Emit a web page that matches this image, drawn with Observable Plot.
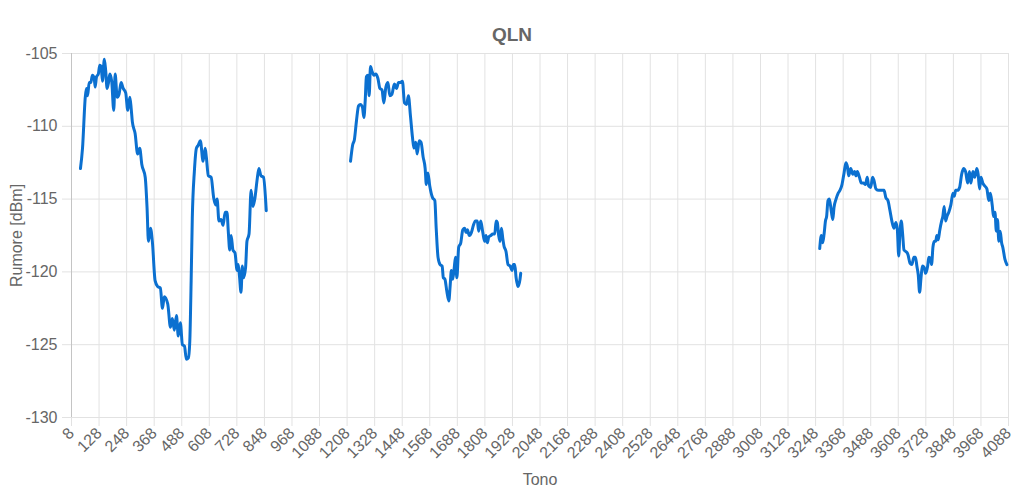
<!DOCTYPE html>
<html>
<head>
<meta charset="utf-8">
<script src="https://cdn.jsdelivr.net/npm/d3@7"></script>
<script src="https://cdn.jsdelivr.net/npm/@observablehq/plot@0.6"></script>
<style>
  html, body { margin: 0; padding: 0; background: #fff; }
  #chart svg { display: block; }
</style>
</head>
<body>
<div id="chart"></div>
<script>
const title = "QLN";
const xLabel = "Tono";
const yLabel = "Rumore [dBm]";

const xTicks = [8,128,248,368,488,608,728,848,968,1088,1208,1328,1448,1568,1688,1808,1928,2048,2168,2288,2408,2528,2648,2768,2888,3008,3128,3248,3368,3488,3608,3728,3848,3968,4088];
const yTicks = [-130,-125,-120,-115,-110,-105];

const tonesA = [47,56,68,73,78,85,92,99,107,111,117,125,131,137,143,151,157,163,169,175,183,192,198,207,215,224,233,244,253,262,268,273,285,296,305,314,329,337,343,352,360,372,383,395,404,412,427,439,447,456,465,473,482,491,500,508,517,523,529,534,543,552,560,569,581,590,595,604,616,627,636,642,650,659,668,677,685,691,697,703,711,720,729,734,740,746,752,757,766,772,781,790,798,807,816,824,833,844,856];
const qlnA = [-112.9,-111.5,-108.0,-107.4,-107.9,-107.0,-107.0,-106.5,-106.7,-107.3,-106.6,-106.4,-105.8,-105.9,-106.9,-105.4,-106.2,-107.4,-107.0,-106.4,-106.9,-108.9,-106.4,-108.0,-107.8,-107.0,-107.4,-107.7,-108.9,-108.0,-108.8,-109.7,-110.5,-111.9,-111.5,-112.6,-113.5,-115.6,-117.9,-117.0,-117.9,-120.6,-121.0,-121.1,-122.5,-121.7,-122.2,-123.8,-123.2,-124.0,-123.0,-124.4,-123.5,-125.0,-125.1,-126.0,-125.9,-124.8,-120.6,-116.3,-113.1,-111.5,-111.3,-111.0,-112.4,-111.5,-112.1,-113.4,-113.5,-114.9,-115.4,-115.0,-116.5,-116.4,-116.8,-115.9,-115.9,-117.3,-118.5,-117.5,-118.5,-118.7,-119.9,-119.5,-120.4,-121.4,-119.6,-120.4,-119.7,-117.9,-117.4,-114.4,-115.5,-114.9,-113.7,-112.9,-113.4,-113.5,-115.8];

const tonesB = [1223,1232,1240,1249,1258,1266,1275,1281,1287,1292,1299,1304,1310,1316,1325,1333,1342,1351,1360,1368,1377,1386,1394,1403,1414,1423,1432,1440,1449,1458,1467,1475,1484,1493,1499,1507,1513,1522,1530,1539,1548,1553,1560,1568,1580,1590,1596,1604,1613,1622,1627,1634,1642,1651,1657,1662,1668,1674,1680,1686,1694,1703,1712,1720,1726,1732,1740,1749,1758,1767,1775,1781,1790,1799,1807,1813,1819,1825,1834,1842,1851,1857,1862,1868,1874,1880,1886,1891,1900,1909,1918,1926,1932,1938,1944,1952,1961,1964];
const qlnB = [-112.4,-111.3,-110.9,-109.6,-108.6,-108.5,-108.7,-109.4,-108.2,-106.6,-106.5,-107.9,-105.9,-106.2,-106.5,-106.4,-106.7,-107.4,-107.5,-108.4,-107.3,-107.0,-107.9,-107.8,-107.1,-107.4,-107.0,-107.0,-106.9,-108.4,-108.5,-107.9,-109.3,-110.8,-111.5,-111.1,-111.9,-111.0,-111.1,-112.1,-112.9,-114.0,-113.2,-114.1,-114.9,-115.1,-117.0,-119.0,-119.5,-119.6,-120.4,-120.5,-121.3,-122.0,-120.9,-119.9,-120.5,-119.8,-119.0,-120.4,-118.3,-118.0,-117.1,-117.0,-117.3,-117.1,-117.5,-117.3,-116.8,-116.5,-116.5,-117.2,-116.5,-117.3,-117.9,-117.5,-118.0,-117.6,-117.5,-117.4,-117.4,-116.5,-116.6,-117.5,-117.9,-117.0,-117.7,-118.2,-118.6,-119.5,-119.6,-119.9,-119.5,-119.5,-120.4,-121.0,-120.5,-120.1];

const tonesC = [3266,3273,3279,3285,3291,3296,3302,3308,3317,3323,3328,3337,3346,3354,3363,3372,3380,3387,3392,3401,3410,3418,3424,3430,3439,3447,3456,3465,3473,3479,3488,3496,3502,3511,3523,3534,3546,3554,3563,3572,3580,3589,3598,3604,3610,3615,3621,3627,3633,3641,3650,3659,3667,3676,3683,3689,3695,3701,3707,3713,3721,3727,3736,3741,3748,3753,3759,3765,3771,3776,3782,3788,3797,3802,3808,3814,3820,3828,3837,3846,3852,3858,3866,3875,3884,3892,3901,3910,3918,3924,3933,3941,3950,3956,3962,3968,3976,3985,3994,4002,4009,4017,4023,4029,4035,4040,4046,4052,4058,4063,4072,4081];
const qlnC = [-118.4,-117.5,-118.0,-117.4,-116.5,-116.2,-115.1,-115.0,-115.9,-116.4,-115.6,-115.0,-114.6,-114.4,-114.0,-113.2,-112.5,-112.8,-113.4,-112.9,-113.3,-113.1,-113.4,-113.1,-113.5,-113.9,-113.9,-114.0,-113.5,-114.1,-114.2,-113.5,-113.7,-114.3,-114.4,-114.4,-114.4,-114.9,-115.1,-115.8,-116.5,-117.0,-116.6,-117.1,-118.9,-117.4,-116.5,-117.4,-118.5,-118.6,-118.8,-119.4,-119.5,-119.0,-119.0,-119.6,-120.2,-121.4,-120.4,-119.6,-119.7,-120.1,-119.6,-119.0,-119.1,-119.5,-118.3,-117.9,-117.9,-117.5,-117.8,-117.2,-116.5,-116.2,-115.5,-116.5,-116.2,-115.9,-115.4,-114.6,-114.8,-114.4,-114.4,-114.2,-113.3,-112.9,-113.1,-113.9,-113.1,-113.9,-113.1,-113.5,-112.9,-113.3,-114.3,-113.5,-113.9,-114.1,-114.3,-115.1,-114.6,-115.4,-116.2,-115.9,-117.2,-116.4,-117.9,-117.2,-118.0,-118.3,-119.1,-119.5];

const rows = [
  ...tonesA.map((t, i) => ({tone: t, qln: qlnA[i], seg: "A"})),
  ...tonesB.map((t, i) => ({tone: t, qln: qlnB[i], seg: "B"})),
  ...tonesC.map((t, i) => ({tone: t, qln: qlnC[i], seg: "C"}))
];

const gridColor = "#e2e2e2";
const textColor = "#666";

const chart = Plot.plot({
  width: 1024,
  height: 498,
  marginLeft: 71,
  marginRight: 16,
  marginTop: 53,
  marginBottom: 81,
  style: {fontFamily: "'Liberation Sans', Arial, Helvetica, sans-serif", fontSize: "16px", color: textColor, background: "#fff"},
  x: {domain: [8, 4088]},
  y: {domain: [-130, -105]},
  marks: [
    Plot.ruleX(xTicks, {x: d => d, y1: -130, y2: -105, stroke: gridColor}),
    Plot.ruleY(yTicks, {y: d => d, x1: 8, x2: 4088, stroke: gridColor}),
    Plot.axisX(xTicks, {tickSize: 9, tickPadding: 4, tickRotate: -45, stroke: gridColor, fill: textColor, label: null, tickFormat: d => String(d), fontSize: 16}),
    Plot.axisY(yTicks, {tickSize: 9, tickPadding: 5, stroke: gridColor, fill: textColor, label: null, tickFormat: d => String(d), fontSize: 16}),
    Plot.ruleX([8], {stroke: "#c4c4c4"}),
    Plot.line(rows, {x: "tone", y: "qln", z: "seg", stroke: "#0b70d0", strokeWidth: 3, curve: "monotone-x"}),
    Plot.text([title], {text: d => d, frameAnchor: "top", dy: -26, dx: -28, fontSize: 19, fontWeight: "bold", fill: textColor}),
    Plot.text([yLabel], {text: d => d, frameAnchor: "left", textAnchor: "middle", dx: -55, rotate: -90, fontSize: 16, fill: textColor}),
    Plot.text([xLabel], {text: d => d, frameAnchor: "bottom", textAnchor: "middle", dy: 67, fontSize: 16, fill: textColor})
  ]
});
document.getElementById("chart").appendChild(chart);
</script>
</body>
</html>
